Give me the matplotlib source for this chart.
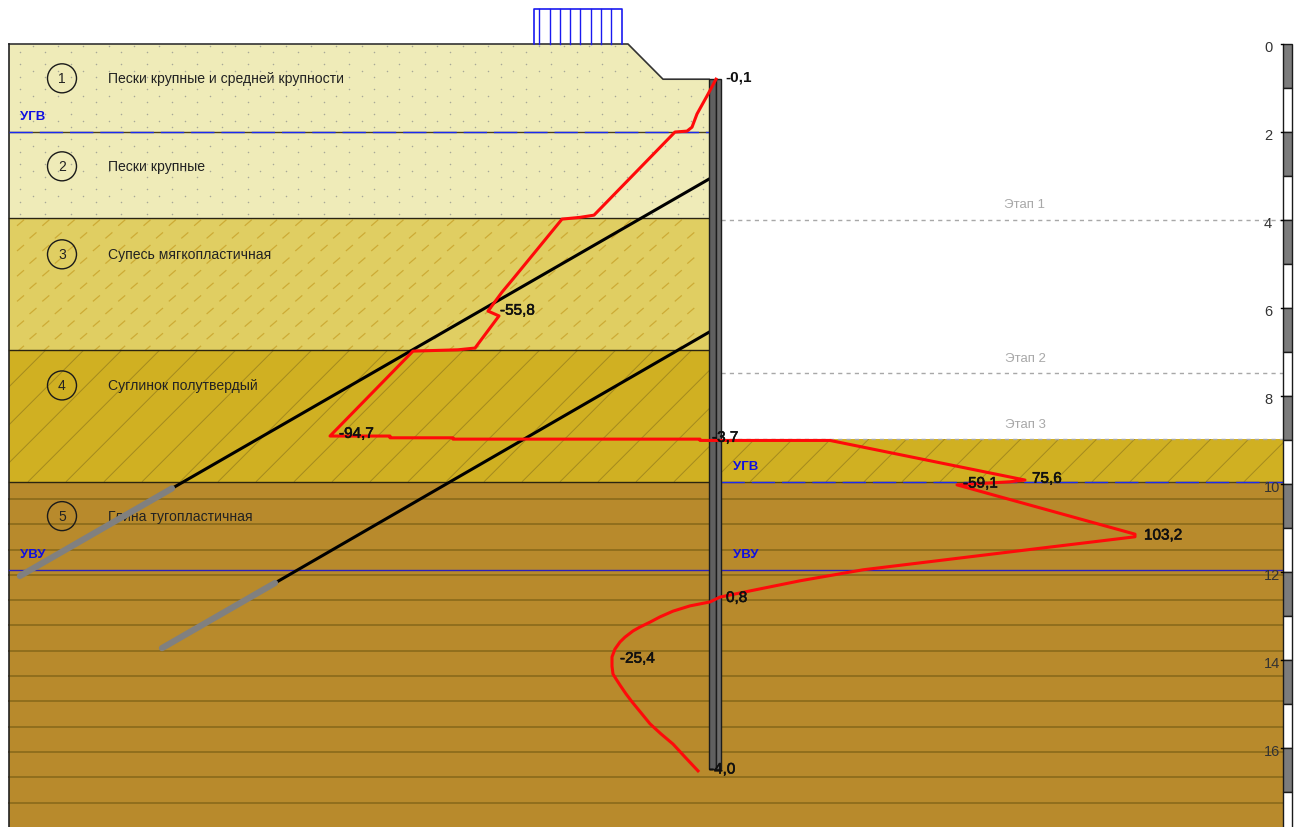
import numpy as np
import matplotlib
matplotlib.use('Agg')
import matplotlib.pyplot as plt
import matplotlib.patheffects as pe
from matplotlib.patches import Polygon, Rectangle
from matplotlib.collections import LineCollection

plt.rcParams['font.family'] = ['Liberation Sans', 'DejaVu Sans']

# depth in metres, x in drawing units (1 unit = 1 px)
layer_tops = [0.0, 2.0, 3.95, 6.95, 9.95]
layer_names = ['Пески крупные и средней крупности', 'Пески крупные', 'Супесь мягкопластичная',
               'Суглинок полутвердый', 'Глина тугопластичная']
layer_nums = ['1', '2', '3', '4', '5']
label_depths = [0.78, 2.78, 4.78, 7.76, 10.73]

ground_x = [9, 628, 663, 709]
ground_d = [0.0, 0.0, 0.8, 0.8]

moment_x = [716, 708, 697, 692, 687, 675, 594, 580, 562, 513, 502, 488, 499, 475, 458, 413, 330, 390, 390, 453, 453,
            700, 700, 830, 1025, 1010, 957, 1135, 1135, 1033, 863, 800, 750, 720, 710, 690, 673, 660, 650, 640, 633,
            625, 620, 615, 612, 612, 613, 616, 620, 626, 632, 641, 650, 661, 673, 686, 698]
moment_d = [0.80, 1.14, 1.59, 1.89, 1.98, 2.00, 3.89, 3.94, 3.98, 5.34, 5.64, 6.07, 6.18, 6.91, 6.95, 6.98, 8.91,
            8.91, 8.95, 8.95, 8.98, 8.98, 9.01, 9.01, 9.91, 9.95, 10.02, 11.14, 11.20, 11.48, 11.95, 12.20, 12.43,
            12.57, 12.68, 12.77, 12.89, 13.02, 13.14, 13.25, 13.34, 13.48, 13.59, 13.75, 13.93, 14.14, 14.32, 14.43,
            14.57, 14.77, 14.95, 15.20, 15.45, 15.68, 15.91, 16.23, 16.52]

moment_labels = ['-0,1', '-55,8', '-94,7', '-3,7', '75,6', '-59,1', '103,2', '0,8', '-25,4', '-4,0']
moment_label_x = [725, 500, 339, 712, 1032, 963, 1144, 726, 620, 709]
moment_label_d = [0.73, 6.06, 8.86, 8.95, 9.88, 9.99, 11.17, 12.59, 13.97, 16.49]

anchor1_x = [709, 172, 20]
anchor1_d = [3.07, 10.10, 12.09]
anchor2_x = [709, 275, 162]
anchor2_d = [6.55, 12.25, 13.73]

stage_names = ['Этап 1', 'Этап 2', 'Этап 3']
stage_depths = [4.0, 7.48, 8.98]
stage_text_d = [3.64, 7.14, 8.64]

load_x = [534, 539, 550, 560, 570, 580, 591, 601, 611, 622]
scale_ticks = [0, 2, 4, 6, 8, 10, 12, 14, 16]

col_sand = '#EFEBB8'
col_sandy = '#E0CE62'
col_loam = '#D0B022'
col_clay = '#B88A2C'

fig = plt.figure(figsize=(13, 8.28), dpi=100)
ax = fig.add_axes([0, 0, 1, 1])
ax.set_xlim(0, 1300)
ax.set_ylim(783 / 44, -45 / 44)
ax.axis('off')

bottom = 783 / 44
right = 1283

# soil layers
sand = Polygon(list(zip(ground_x, ground_d)) + [(709, layer_tops[2]), (9, layer_tops[2])],
               fc=col_sand, ec='none', zorder=1)
ax.add_patch(sand)
ax.add_patch(Rectangle((9, layer_tops[2]), 700, layer_tops[3] - layer_tops[2], fc=col_sandy, ec='none', zorder=1))
loam_l = Rectangle((9, layer_tops[3]), 700, layer_tops[4] - layer_tops[3], fc=col_loam, ec='none', zorder=1)
loam_r = Rectangle((721, stage_depths[2]), right - 721, layer_tops[4] - stage_depths[2], fc=col_loam, ec='none', zorder=1)
ax.add_patch(loam_l)
ax.add_patch(loam_r)
ax.add_patch(Rectangle((9, layer_tops[4]), right - 9, bottom - layer_tops[4], fc=col_clay, ec='none', zorder=1))

# dots in the sand, three staggered rows repeating every 25 px
dots_x, dots_d = [], []
for base in np.arange(-5, 175, 25):
    for dy, dx in [(0, 0), (6.5, 12.7), (12.7, 0)]:
        xs = np.arange(20 + dx, 709, 25.3)
        dots_x.extend(xs)
        dots_d.extend([(base + dy) / 44] * len(xs))
dots = ax.scatter(dots_x, dots_d, s=1.2, c='#A8A898', linewidths=0, zorder=2)
dots.set_clip_path(sand)

# short slashes in the sandy layer
segs = []
for i, d in enumerate(np.arange(layer_tops[2] + 5 / 44, layer_tops[3], 12.6 / 44)):
    for x in np.arange(17 + (i % 2) * 12.5, 700, 25.3):
        segs.append([(x, d + 3 / 44), (x + 7, d - 3 / 44)])
ax.add_collection(LineCollection(segs, colors='#CDAB36', linewidths=0.9, zorder=2))

# long diagonals in the loam
for patch in (loam_l, loam_r):
    segs = [[(x, layer_tops[4]), (x + 132, layer_tops[4] - 132 / 44)] for x in np.arange(-200, 1500, 38)]
    lc = LineCollection(segs, colors='#A58A1E', linewidths=0.7, zorder=2)
    ax.add_collection(lc)
    lc.set_clip_path(patch)

# horizontal lines in the clay
for d in np.arange(10.34, bottom, 0.575):
    ax.plot([9, right], [d, d], color='#8A6A1A', lw=1.2, zorder=2)

# outlines
ax.plot(ground_x, ground_d, color='#333333', lw=1.2, zorder=3)
ax.plot([9, 9], [0, bottom], color='#222222', lw=1.2, zorder=3)
for d in layer_tops[2:]:
    ax.plot([9, 709], [d, d], color='#2A2410', lw=1, zorder=3)

# water levels, blue over a dark line so the gaps look dark
for x0, x1, d in [(9, 709, layer_tops[1]), (721, right, layer_tops[4])]:
    ax.plot([x0, x1], [d, d], color='#4A4220', lw=1, zorder=3)
    ax.plot([x0, x1], [d, d], color='#1A2AF0', lw=1, ls=(0, (16.8, 5)), zorder=3)
ax.plot([9, right], [11.95, 11.95], color='#2A20C0', lw=1, zorder=3)
for x, d, s in [(20, 1.61, 'УГВ'), (733, 9.57, 'УГВ'), (20, 11.57, 'УВУ'), (733, 11.57, 'УВУ')]:
    ax.text(x, d + 0.03, s, color='#1010E0', fontsize=9.5, fontweight='bold', va='center', ha='left', zorder=6)

# anchors
ax.plot(anchor1_x[:2], anchor1_d[:2], color='black', lw=2.2, zorder=4)
ax.plot(anchor2_x[:2], anchor2_d[:2], color='black', lw=2.2, zorder=4)
ax.plot(anchor1_x[1:], anchor1_d[1:], color='#808080', lw=4.5, solid_capstyle='round', zorder=4)
ax.plot(anchor2_x[1:], anchor2_d[1:], color='#808080', lw=4.5, solid_capstyle='round', zorder=4)

# wall
ax.add_patch(Rectangle((709, 0.8), 7, 16.48 - 0.8, fc='#606060', ec='#1C1C1C', lw=1, zorder=5))
ax.add_patch(Rectangle((716, 0.8), 5, 16.48 - 0.8, fc='#6C6C6C', ec='#1C1C1C', lw=1, zorder=5))

# moment diagram
ax.plot(moment_x, moment_d, color='#FF0A0A', lw=2.2, solid_joinstyle='round', zorder=6)
for s, x, d in zip(moment_labels, moment_label_x, moment_label_d):
    t = ax.text(x, d, s, fontsize=11, color='#101010', va='center', ha='left', zorder=7,
                fontweight='bold' if s == '-0,1' else 'normal')
    if s != '-0,1':
        t.set_path_effects([pe.withStroke(linewidth=0.4, foreground='#101010')])

# soil labels
ax.scatter([62] * 5, label_depths, s=436, facecolors='none', edgecolors='#1A1A1A', linewidths=1, zorder=5)
for n, name, d in zip(layer_nums, layer_names, label_depths):
    ax.text(62, d, n, fontsize=10, color='#222222', ha='center', va='center', zorder=5)
    ax.text(108, d, name, fontsize=10.1, color='#222222', ha='left', va='center', zorder=3.5)

# stages
for name, d, td in zip(stage_names, stage_depths, stage_text_d):
    ax.plot([721, 1283], [d, d], color='#A8A8A8', lw=1, ls=(0, (3, 3)), zorder=3)
    ax.text(1025, td, name, fontsize=9.5, color='#A8A8A8', ha='center', va='center', zorder=3)

# surcharge on top
ax.plot([load_x[0], load_x[0], load_x[-1], load_x[-1]], [0, -0.8, -0.8, 0], color='#1A1AF0', lw=1.2, zorder=4)
for x in load_x[1:-1]:
    ax.plot([x, x], [-0.8, 0], color='#1A1AF0', lw=1, zorder=4)

# depth scale
for i in range(18):
    ax.add_patch(Rectangle((1283, i), 9, 1, fc='#7C7C7C' if i % 2 == 0 else 'white', ec='#1A1A1A', lw=1, zorder=5))
for t in scale_ticks:
    ax.plot([1281, 1283], [t, t], color='black', lw=1, zorder=5)
    ax.text(1264, t + 0.07, str(t), fontsize=10.5, color='#333333', ha='left', va='center', zorder=5)

fig.savefig('out.png', dpi=100)
